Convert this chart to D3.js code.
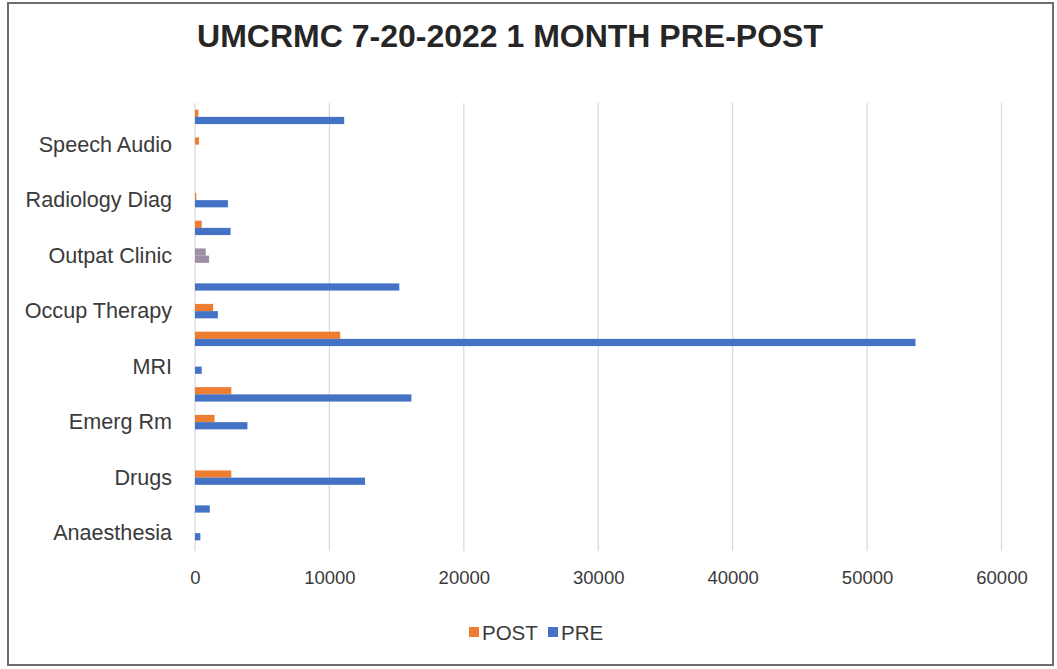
<!DOCTYPE html>
<html>
<head>
<meta charset="utf-8">
<script src="https://cdn.jsdelivr.net/npm/d3@7"></script>
<style>
  html, body { margin: 0; padding: 0; background: #fff; }
  svg { display: block; }
</style>
</head>
<body>
<svg id="chart" width="1057" height="669"></svg>
<script>
// ---- data (categories bottom to top, as in the source) ----
const categories = [
  "Anaesthesia", "Cardiology", "Drugs", "EKG", "Emerg Rm", "Laboratory",
  "MRI", "Nursing", "Occup Therapy", "Operating Rm", "Outpat Clinic",
  "Physical Therapy", "Radiology Diag", "Respiratory", "Speech Audio", "Supplies"
];
// only every other category label is shown on the axis
const shownLabels = ["Anaesthesia", "Drugs", "Emerg Rm", "MRI", "Occup Therapy",
  "Outpat Clinic", "Radiology Diag", "Speech Audio"];
const postValues = [0, 0, 2700, 0, 1450, 2700, 0, 10800, 1350, 0, 800, 500, 100, 0, 300, 250];
const preValues  = [400, 1100, 12650, 0, 3900, 16100, 500, 53600, 1700, 15200, 1050, 2650, 2450, 0, 0, 11100];
const seriesNames = ["POST", "PRE"];
const xTicks = [0, 10000, 20000, 30000, 40000, 50000, 60000];
const titleText = "UMCRMC 7-20-2022 1 MONTH PRE-POST";

// ---- styling ----
const colors = { POST: "#ED7D31", PRE: "#4472C4" };
const mutedCategory = "Outpat Clinic";   // appears greyish-purple in the source
const mutedColor = "#9d90a6";
const font = "'Liberation Sans', Arial, sans-serif";

const svg = d3.select("#chart");
const plot = { left: 195, right: 1001.5, top: 103, bottom: 547 };

// border
svg.append("rect")
  .attr("x", 8).attr("y", 3)
  .attr("width", 1045).attr("height", 662)
  .attr("fill", "#fff")
  .attr("stroke", "#6e6e6e").attr("stroke-width", 2);

// title
svg.append("text")
  .attr("x", 510).attr("y", 47)
  .attr("text-anchor", "middle")
  .attr("font-family", font)
  .attr("font-weight", "bold")
  .attr("font-size", 32)
  .attr("fill", "#262626")
  .text(titleText);

const x = d3.scaleLinear().domain([0, 60000]).range([plot.left, plot.right]);
const y = d3.scaleBand()
  .domain(categories)
  .range([plot.bottom, plot.top])
  .paddingInner(0.48)
  .paddingOuter(0.24);
const ySub = d3.scaleBand().domain(seriesNames).range([0, y.bandwidth()]);

// gridlines
svg.append("g")
  .selectAll("line")
  .data(xTicks)
  .join("line")
  .attr("x1", d => x(d)).attr("x2", d => x(d))
  .attr("y1", plot.top).attr("y2", plot.bottom + 4)
  .attr("stroke", "#d9d9d9").attr("stroke-width", 1.2);

// x axis labels
const xAxis = d3.axisBottom(x).tickValues(xTicks).tickSize(0).tickPadding(24).tickFormat(d3.format("d"));
const gx = svg.append("g").attr("transform", `translate(0,${plot.bottom})`).call(xAxis);
gx.select(".domain").remove();
gx.selectAll("text")
  .attr("font-family", font).attr("font-size", 18.5).attr("fill", "#3a3a3a");

// y axis labels
const yAxis = d3.axisLeft(y).tickSize(0).tickPadding(23)
  .tickFormat(d => shownLabels.includes(d) ? d : "");
const gy = svg.append("g").attr("transform", `translate(${plot.left},0)`).call(yAxis);
gy.select(".domain").remove();
gy.selectAll("text")
  .attr("font-family", font).attr("font-size", 21.6).attr("fill", "#3a3a3a");

// bars
const rows = categories.map((c, i) => ({ cat: c, POST: postValues[i], PRE: preValues[i] }));
const groups = svg.append("g").selectAll("g")
  .data(rows)
  .join("g")
  .attr("transform", d => `translate(0,${y(d.cat)})`);
groups.selectAll("rect")
  .data(d => seriesNames.map(s => ({ cat: d.cat, key: s, value: d[s] })))
  .join("rect")
  .attr("x", x(0))
  .attr("y", d => ySub(d.key))
  .attr("width", d => x(d.value) - x(0))
  .attr("height", ySub.bandwidth())
  .attr("fill", d => d.cat === mutedCategory ? mutedColor : colors[d.key]);

// legend
const legend = svg.append("g").attr("transform", "translate(469,632)");
const items = legend.selectAll("g")
  .data(seriesNames)
  .join("g")
  .attr("transform", (d, i) => `translate(${i * 79},0)`);
items.append("rect")
  .attr("x", 0).attr("y", -5).attr("width", 10).attr("height", 10)
  .attr("fill", d => colors[d]);
items.append("text")
  .attr("x", 13).attr("y", 7.5)
  .attr("font-family", font).attr("font-size", 20.5).attr("fill", "#3a3a3a")
  .text(d => d);
</script>
</body>
</html>
